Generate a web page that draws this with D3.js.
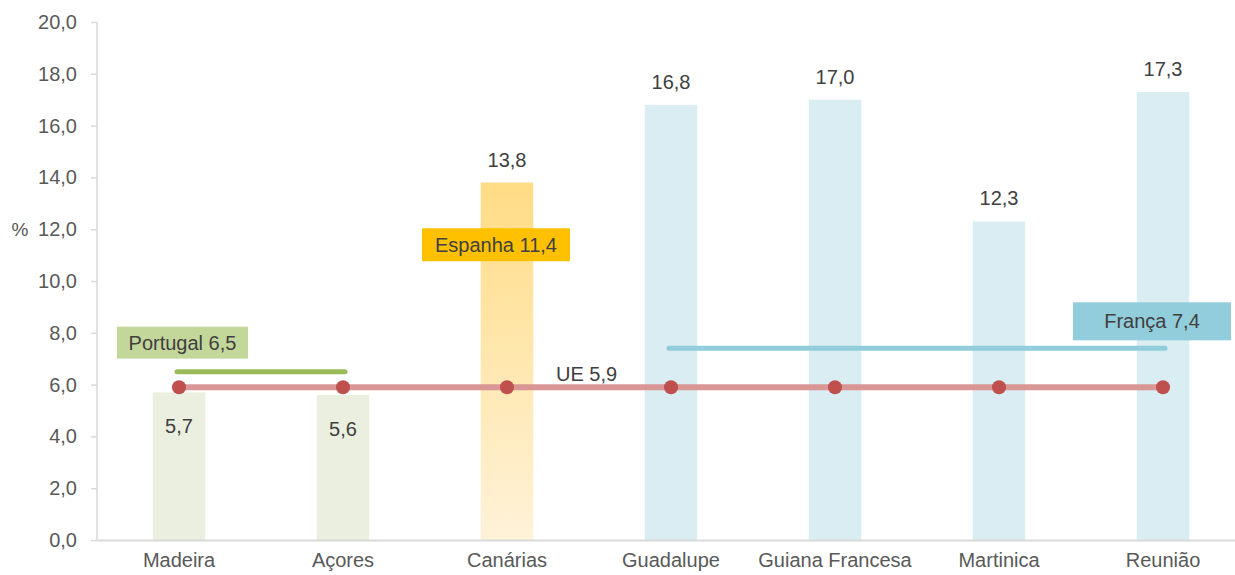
<!DOCTYPE html>
<html>
<head>
<meta charset="utf-8">
<script src="https://cdn.jsdelivr.net/npm/d3@7"></script>
<style>
  body { margin: 0; background: #fff; }
  svg { font-family: "Liberation Sans", Arial, sans-serif; }
</style>
</head>
<body>
<div id="chart"></div>
<script>
var regions = ["Madeira", "Açores", "Canárias", "Guadalupe", "Guiana Francesa", "Martinica", "Reunião"];
var rates = [5.7, 5.6, 13.8, 16.8, 17.0, 12.3, 17.3];
var country = ["pt", "pt", "es", "fr", "fr", "fr", "fr"];
var ueRate = 5.9;
var national = [
  {name: "Portugal", value: 6.5, from: "Madeira", to: "Açores"},
  {name: "França", value: 7.4, from: "Guadalupe", to: "Reunião"},
  {name: "Espanha", value: 11.4, from: "Canárias", to: "Canárias"}
];
var yTicks = [0, 2, 4, 6, 8, 10, 12, 14, 16, 18, 20];

var width = 1235, height = 575;
var margin = {top: 22, right: -10, bottom: 35, left: 97};

var fmt = function(v) { return d3.format(".1f")(v).replace(".", ","); };

var svg = d3.select("#chart").append("svg")
    .attr("width", width)
    .attr("height", height);

var xScale = d3.scaleBand()
    .domain(regions)
    .range([margin.left, width - margin.right])
    .paddingInner(0.68)
    .paddingOuter(0.34);

var yScale = d3.scaleLinear()
    .domain([0, 20])
    .range([height - margin.bottom, margin.top]);

var cx = function(d) { return xScale(d) + xScale.bandwidth() / 2; };

// gradient for Canárias bar
var defs = svg.append("defs");
var grad = defs.append("linearGradient")
    .attr("id", "esGrad")
    .attr("x1", 0).attr("y1", 0).attr("x2", 0).attr("y2", 1);
grad.append("stop").attr("offset", "0%").attr("stop-color", "#ffdc85");
grad.append("stop").attr("offset", "100%").attr("stop-color", "#fff2d9");

var barFill = {pt: "#ebefdf", es: "url(#esGrad)", fr: "#daedf3"};

// y axis
var yAxis = d3.axisLeft(yScale).tickValues(yTicks).tickFormat(fmt).tickSize(6).tickPadding(14);
var gy = svg.append("g")
    .attr("transform", "translate(" + margin.left + ",0)")
    .call(yAxis);
gy.selectAll("path, line").attr("stroke", "#d9d9d9").attr("stroke-width", 1.5);
gy.select(".domain").attr("d", "M0," + yScale(20) + "V" + yScale(0));
gy.selectAll("text").attr("fill", "#595959").style("font-size", "20px")
    .style("font-family", "'Liberation Sans', Arial, sans-serif");

svg.append("text")
    .attr("x", 20).attr("y", yScale(12) + 7)
    .attr("text-anchor", "middle")
    .attr("fill", "#595959").style("font-size", "19px")
    .text("%");

// bars
svg.selectAll(".bar")
    .data(regions)
    .enter().append("rect")
    .attr("class", "bar")
    .attr("x", function(d) { return xScale(d); })
    .attr("width", xScale.bandwidth())
    .attr("y", function(d, i) { return yScale(rates[i]); })
    .attr("height", function(d, i) { return yScale(0) - yScale(rates[i]); })
    .attr("fill", function(d, i) { return barFill[country[i]]; });

// x axis
var xAxis = d3.axisBottom(xScale).tickSize(0).tickPadding(13);
var gx = svg.append("g")
    .attr("transform", "translate(0," + yScale(0) + ")")
    .call(xAxis);
gx.select(".domain").attr("stroke", "#d9d9d9").attr("stroke-width", 2);
gx.selectAll("text").attr("fill", "#595959").style("font-size", "20px")
    .style("font-family", "'Liberation Sans', Arial, sans-serif");

// bar value labels
svg.selectAll(".val")
    .data(regions)
    .enter().append("text")
    .attr("class", "val")
    .attr("x", function(d) { return cx(d); })
    .attr("y", function(d, i) {
      return country[i] === "pt" ? yScale(rates[i]) + 41 : yScale(rates[i]) - 16;
    })
    .attr("text-anchor", "middle")
    .attr("fill", "#404040").style("font-size", "20px")
    .text(function(d, i) { return fmt(rates[i]); });

// national lines
var lineColor = {"Portugal": "#9bbb59", "França": "#92cddc"};
national.filter(function(n) { return n.from !== n.to; }).forEach(function(n) {
  svg.append("line")
    .attr("x1", cx(n.from) - 2).attr("x2", cx(n.to) + 2)
    .attr("y1", yScale(n.value)).attr("y2", yScale(n.value))
    .attr("stroke", lineColor[n.name]).attr("stroke-width", 5)
    .attr("stroke-linecap", "round");
});

// UE line + points
var ueLine = d3.line()
    .x(function(d) { return cx(d); })
    .y(function() { return yScale(ueRate); });
svg.append("path")
    .datum(regions)
    .attr("d", ueLine)
    .attr("fill", "none")
    .attr("stroke", "#da9694")
    .attr("stroke-width", 6);
svg.selectAll(".ue")
    .data(regions)
    .enter().append("circle")
    .attr("cx", function(d) { return cx(d); })
    .attr("cy", yScale(ueRate))
    .attr("r", 7)
    .attr("fill", "#c0504d");

svg.append("text")
    .attr("x", 556).attr("y", yScale(ueRate) - 6)
    .attr("fill", "#404040").style("font-size", "20px")
    .text("UE " + fmt(ueRate));

// national label boxes
var boxes = [
  {name: "Portugal", x: 117, w: 131, h: 32, fill: "#c4d79b"},
  {name: "Espanha", x: 422, w: 148, h: 33, fill: "#ffc000"},
  {name: "França", x: 1073, w: 158, h: 38, fill: "#92cddc"}
];
boxes.forEach(function(b) {
  var n = national.find(function(d) { return d.name === b.name; });
  var yTop = b.name === "Espanha" ? yScale(n.value) - b.h / 2
           : b.name === "Portugal" ? yScale(n.value) - 45
           : yScale(n.value) - 46;
  var g = svg.append("g").attr("transform", "translate(" + b.x + "," + yTop + ")");
  g.append("rect").attr("width", b.w).attr("height", b.h).attr("fill", b.fill);
  g.append("text")
    .attr("x", b.w / 2).attr("y", b.h / 2 + 7)
    .attr("text-anchor", "middle")
    .attr("fill", "#404040").style("font-size", "20px")
    .text(n.name + " " + fmt(n.value));
});
</script>
</body>
</html>
